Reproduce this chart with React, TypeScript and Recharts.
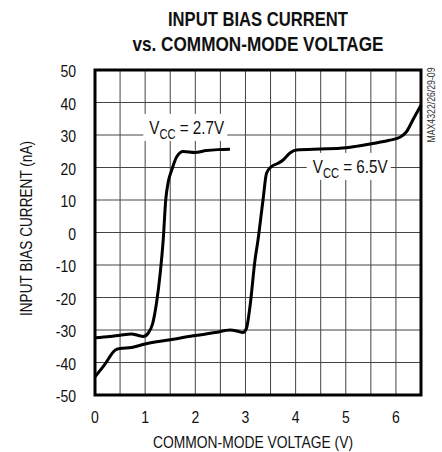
import React from "react";
import { CartesianGrid, Label, Line, LineChart, ReferenceArea, ReferenceDot, XAxis, YAxis } from "recharts";

// Input bias current (nA) vs common-mode voltage (V).
const vcc27 = [
  { v: 0, i: -32.4 },
  { v: 0.3, i: -32 },
  { v: 0.5, i: -31.6 },
  { v: 0.73, i: -31.2 },
  { v: 0.85, i: -31.6 },
  { v: 0.96, i: -32 },
  { v: 1.06, i: -31 },
  { v: 1.15, i: -28 },
  { v: 1.23, i: -21.3 },
  { v: 1.3, i: -12.6 },
  { v: 1.36, i: -2.3 },
  { v: 1.41, i: 10 },
  { v: 1.46, i: 15.5 },
  { v: 1.53, i: 19.2 },
  { v: 1.63, i: 23.3 },
  { v: 1.76, i: 24.9 },
  { v: 1.99, i: 24.6 },
  { v: 2.22, i: 25.2 },
  { v: 2.45, i: 25.5 },
  { v: 2.69, i: 25.6 },
];

const vcc65 = [
  { v: 0, i: -44.4 },
  { v: 0.2, i: -40.5 },
  { v: 0.4, i: -36.2 },
  { v: 0.5, i: -35.7 },
  { v: 0.73, i: -35.4 },
  { v: 1.0, i: -34.3 },
  { v: 1.5, i: -33 },
  { v: 1.96, i: -31.8 },
  { v: 2.4, i: -30.8 },
  { v: 2.69, i: -30 },
  { v: 2.85, i: -30.4 },
  { v: 2.95, i: -30.8 },
  { v: 3.02, i: -29.5 },
  { v: 3.09, i: -22.8 },
  { v: 3.19, i: -8.5 },
  { v: 3.25, i: -2.3 },
  { v: 3.35, i: 10 },
  { v: 3.42, i: 18.2 },
  { v: 3.52, i: 20.3 },
  { v: 3.65, i: 21.3 },
  { v: 3.75, i: 22.3 },
  { v: 3.88, i: 24.4 },
  { v: 4.02, i: 25.4 },
  { v: 4.5, i: 25.7 },
  { v: 4.88, i: 25.9 },
  { v: 5.2, i: 26.5 },
  { v: 5.54, i: 27.4 },
  { v: 5.85, i: 28.3 },
  { v: 6.08, i: 29.3 },
  { v: 6.21, i: 31 },
  { v: 6.35, i: 35 },
  { v: 6.5, i: 39.2 },
];

const xTicks = [0, 0.5, 1, 1.5, 2, 2.5, 3, 3.5, 4, 4.5, 5, 5.5, 6, 6.5];
const yTicks = [-50, -40, -30, -20, -10, 0, 10, 20, 30, 40, 50];

const labels = [
  { v: 1.8, i: 32.5, rail: "2.7V" },
  { v: 5.06, i: 20.5, rail: "6.5V" },
];

const FONT = "'Liberation Sans', Arial, sans-serif";

// the datasheet uses a condensed face, so squeeze Liberation Sans horizontally
function XTick({ x, y, payload }: any) {
  if (!Number.isInteger(payload.value)) return null;
  return (
    <text
      transform={`translate(${x} ${y + 28}) scale(0.85 1)`}
      textAnchor="middle"
      fontFamily={FONT}
      fontSize={16.5}
      fill="#111111"
    >
      {payload.value}
    </text>
  );
}

function YTick({ x, y, payload }: any) {
  return (
    <text
      transform={`translate(${x - 19} ${y + 7}) scale(0.85 1)`}
      textAnchor="end"
      fontFamily={FONT}
      fontSize={16.5}
      fill="#111111"
    >
      {payload.value}
    </text>
  );
}

// white box with V_CC = ... over the grid
function RailLabel({ cx, cy, rail }: any) {
  return (
    <g>
      <rect x={cx - 42} y={cy - 13} width={84} height={27} fill="#ffffff" />
      <text
        transform={`translate(${cx - 36} ${cy + 7}) scale(0.8 1)`}
        fontFamily={FONT}
        fontSize={19}
        fill="#111111"
      >
        V
        <tspan fontSize={14} dy={5}>
          CC
        </tspan>
        <tspan dy={-5}>{` = ${rail}`}</tspan>
      </text>
    </g>
  );
}

// x-axis title, centred under the plot
function XTitle({ viewBox }: any) {
  const cx = viewBox.x + viewBox.width / 2;
  return (
    <text
      x={cx - 5}
      y={448}
      textAnchor="middle"
      fontFamily={FONT}
      fontSize={16}
      fill="#111111"
      textLength={200}
      lengthAdjust="spacingAndGlyphs"
    >
      COMMON-MODE VOLTAGE (V)
    </text>
  );
}

// y-axis title plus the chart heading and the part-number tag at the right edge
function YTitle({ viewBox }: any) {
  const cy = viewBox.y + viewBox.height / 2;
  return (
    <g fontFamily={FONT} fill="#111111">
      <text
        transform={`translate(32 ${cy - 4}) rotate(-90)`}
        textAnchor="middle"
        fontSize={16}
        textLength={175}
        lengthAdjust="spacingAndGlyphs"
      >
        INPUT BIAS CURRENT (nA)
      </text>
      <g fontWeight="bold" fontSize={21} textAnchor="middle">
        <text x={258} y={26} textLength={180} lengthAdjust="spacingAndGlyphs">
          INPUT BIAS CURRENT
        </text>
        <text x={258} y={51} textLength={251} lengthAdjust="spacingAndGlyphs">
          vs. COMMON-MODE VOLTAGE
        </text>
      </g>
      <text
        transform="translate(435 105) rotate(-90)"
        textAnchor="middle"
        fontSize={10}
        fill="#333333"
        textLength={75}
        lengthAdjust="spacingAndGlyphs"
      >
        MAX4322/26/29-09
      </text>
    </g>
  );
}

export default function App() {
  return (
    <div style={{ position: "absolute", left: 0, top: 0, width: 442, height: 452, background: "#fff" }}>
      {/* the grid only shows up when the chart itself has data, so the 6.5V curve lives here */}
      <LineChart
        width={442}
        height={452}
        data={vcc65}
        margin={{ top: 70, right: 21, bottom: 0, left: 0 }}
      >
        <CartesianGrid stroke="#444444" strokeWidth={1} />
        <XAxis
          type="number"
          dataKey="v"
          domain={[0, 6.5]}
          ticks={xTicks}
          interval={0}
          height={57}
          axisLine={false}
          tickLine={false}
          tickSize={0}
          tickMargin={0}
          tick={<XTick />}
        >
          <Label content={<XTitle />} />
        </XAxis>
        <YAxis
          type="number"
          domain={[-50, 50]}
          ticks={yTicks}
          interval={0}
          width={95}
          axisLine={false}
          tickLine={false}
          tickSize={0}
          tickMargin={0}
          tick={<YTick />}
        >
          <Label content={<YTitle />} />
        </YAxis>
        <ReferenceArea
          x1={0}
          x2={6.5}
          y1={-50}
          y2={50}
          fill="none"
          stroke="#000000"
          strokeWidth={3}
          ifOverflow="visible"
        />
        <Line
          data={vcc27}
          dataKey="i"
          type="monotone"
          stroke="#000000"
          strokeWidth={3}
          dot={false}
          isAnimationActive={false}
        />
        <Line
          dataKey="i"
          type="monotone"
          stroke="#000000"
          strokeWidth={3}
          dot={false}
          isAnimationActive={false}
        />
        {labels.map((l) => (
          <ReferenceDot
            key={l.rail}
            x={l.v}
            y={l.i}
            r={0}
            ifOverflow="visible"
            shape={(p: any) => <RailLabel cx={p.cx} cy={p.cy} rail={l.rail} />}
          />
        ))}
      </LineChart>
    </div>
  );
}
